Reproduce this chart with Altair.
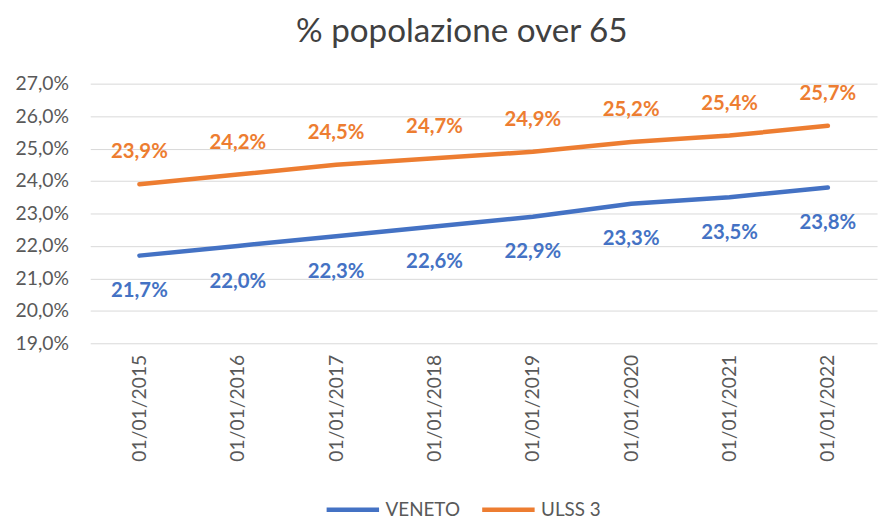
import altair as alt
import pandas as pd

dates = ["01/01/2015", "01/01/2016", "01/01/2017", "01/01/2018",
         "01/01/2019", "01/01/2020", "01/01/2021", "01/01/2022"]
veneto = [21.7, 22.0, 22.3, 22.6, 22.9, 23.3, 23.5, 23.8]
ulss3 = [23.9, 24.2, 24.5, 24.7, 24.9, 25.2, 25.4, 25.7]
y_ticks = [19, 20, 21, 22, 23, 24, 25, 26, 27]
series_names = ["VENETO", "ULSS 3"]
colors = ["#4472C4", "#ED7D31"]

rows = []
for d, v in zip(dates, veneto):
    rows.append({"date": d, "value": v, "serie": "VENETO"})
for d, v in zip(dates, ulss3):
    rows.append({"date": d, "value": v, "serie": "ULSS 3"})
df = pd.DataFrame(rows)

FONT = "Lato"
GREY = "#595959"

x = alt.X("date:O", sort=dates, scale=alt.Scale(type="point", padding=0.5),
          axis=alt.Axis(title=None, labelAngle=270, labelFontSize=19.5, labelColor=GREY,
                        labelFont=FONT, ticks=False, domain=False, grid=False,
                        labelPadding=11, labelOverlap=False))
y = alt.Y("value:Q", scale=alt.Scale(domain=[19, 27], nice=False, zero=False),
          axis=alt.Axis(title=None, values=y_ticks,
                        labelExpr="replace(format(datum.value, '.1f'), '.', ',') + '%'",
                        labelFontSize=19.5, labelColor=GREY, labelFont=FONT,
                        ticks=False, domain=False, gridColor="#D9D9D9", gridWidth=1,
                        labelPadding=22, labelOverlap=False))
color = alt.Color("serie:N", sort=series_names,
                  scale=alt.Scale(domain=series_names, range=colors),
                  legend=alt.Legend(title=None, orient="none", direction="horizontal",
                                    legendX=236, legendY=401, symbolType="stroke",
                                    symbolStrokeWidth=4.5, symbolSize=2800,
                                    labelFontSize=19, labelColor=GREY, labelFont=FONT,
                                    columnPadding=12, symbolOffset=0, labelOffset=4))

lines = alt.Chart(df).mark_line(strokeWidth=4.5, strokeCap="round").encode(
    x=x, y=y, color=color)

lab_v = alt.Chart(df).transform_filter(alt.datum.serie == "VENETO").transform_calculate(
    lab="replace(format(datum.value, '.1f'), '.', ',') + '%'"
).mark_text(dy=36, fontSize=20.5, fontWeight="bold", font=FONT, color="#4472C4").encode(
    x=x, y=y, text="lab:N")

lab_u = alt.Chart(df).transform_filter(alt.datum.serie == "ULSS 3").transform_calculate(
    lab="replace(format(datum.value, '.1f'), '.', ',') + '%'"
).mark_text(dy=-32, fontSize=20.5, fontWeight="bold", font=FONT, color="#ED7D31").encode(
    x=x, y=y, text="lab:N")

chart = alt.layer(lines, lab_v, lab_u).properties(
    width=794, height=262,
    background="white",
    autosize=alt.AutoSizeParams(type="none"),
    padding={"left": 83, "top": 74, "right": 4, "bottom": 176},
    title=alt.TitleParams("% popolazione over 65", fontSize=33.5, font=FONT,
                          fontWeight="normal", color="#404040", anchor="middle",
                          offset=25, dx=-22)
).configure_view(stroke=None)

chart.save("out.html", embed_options={"renderer": "svg", "actions": False})
